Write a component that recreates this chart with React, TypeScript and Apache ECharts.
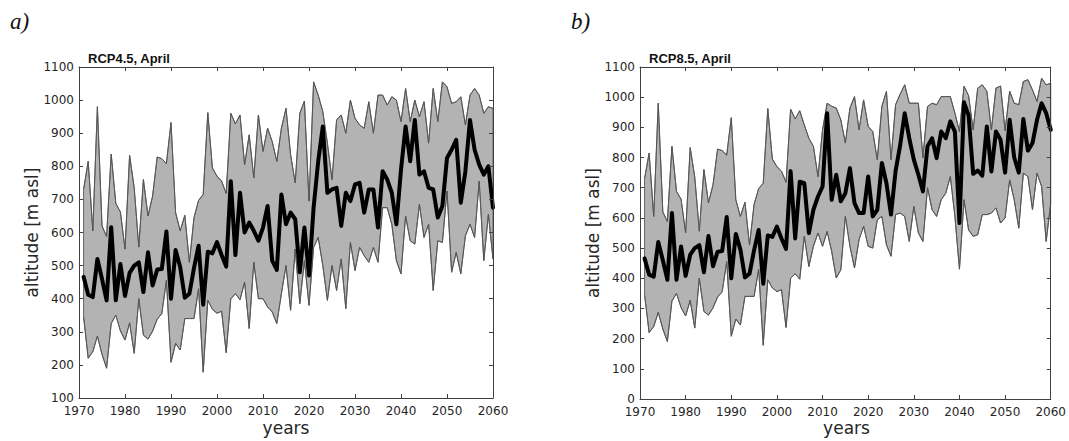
import React, { useEffect, useRef } from "react";
import * as echarts from "echarts";

// Years 1971..2060
const years: number[] = Array.from({ length: 90 }, (_, i) => 1971 + i);

// Historical period (1971-2005), shared by both scenarios
const histUpper = [730, 815, 605, 980, 620, 588, 837, 688, 662, 550, 833, 735, 556, 760, 650, 710, 828, 823, 808, 932, 660, 605, 652, 510, 645, 697, 715, 962, 795, 770, 755, 718, 960, 928, 955];
const histMean = [466, 412, 405, 520, 460, 395, 616, 395, 505, 408, 478, 500, 510, 420, 540, 440, 488, 490, 603, 400, 547, 495, 403, 415, 493, 560, 382, 542, 537, 571, 532, 497, 755, 532, 720];
const histLower = [345, 220, 240, 287, 232, 190, 325, 350, 303, 275, 327, 235, 400, 290, 278, 302, 338, 355, 455, 208, 265, 245, 340, 340, 340, 430, 178, 395, 368, 356, 362, 237, 400, 415, 397];

// RCP4.5 (2006-2060)
const rcp45Upper = [805, 895, 765, 955, 845, 915, 875, 815, 915, 975, 835, 750, 960, 997, 695, 1055, 1015, 965, 870, 760, 940, 955, 900, 1000, 945, 925, 915, 995, 900, 1015, 1015, 985, 1010, 1000, 935, 1035, 935, 1000, 950, 995, 870, 1035, 935, 1055, 1040, 990, 995, 1010, 925, 1015, 1035, 1015, 960, 980, 975];
const rcp45Mean = [600, 630, 605, 575, 615, 680, 515, 487, 715, 625, 660, 640, 480, 615, 470, 675, 815, 920, 720, 730, 735, 620, 720, 695, 745, 750, 660, 730, 730, 615, 785, 760, 720, 625, 790, 920, 815, 940, 775, 785, 735, 730, 645, 680, 825, 850, 880, 690, 785, 940, 850, 805, 775, 800, 675];
const rcp45Lower = [450, 310, 510, 400, 400, 375, 360, 325, 415, 500, 365, 550, 385, 515, 380, 555, 585, 500, 395, 500, 425, 520, 370, 570, 485, 555, 530, 510, 555, 510, 675, 675, 625, 515, 475, 650, 575, 565, 685, 585, 625, 425, 575, 570, 725, 480, 540, 475, 590, 625, 585, 755, 515, 655, 520];

// RCP8.5 (2006-2060)
const rcp85Upper = [908, 864, 837, 737, 892, 980, 970, 964, 925, 848, 964, 1002, 892, 991, 903, 886, 793, 970, 1019, 793, 975, 1010, 1041, 980, 980, 980, 800, 969, 980, 975, 1002, 1002, 1002, 947, 886, 1036, 1005, 892, 1030, 1041, 1020, 892, 1030, 1037, 889, 1020, 980, 975, 1052, 1058, 1024, 986, 1063, 1041, 1046];
const rcp85Mean = [715, 550, 627, 671, 704, 947, 660, 743, 655, 682, 765, 649, 616, 616, 737, 605, 627, 782, 715, 611, 755, 840, 947, 864, 793, 743, 688, 837, 864, 798, 886, 864, 920, 886, 583, 983, 940, 746, 757, 740, 903, 754, 886, 859, 750, 925, 800, 750, 928, 823, 848, 925, 980, 947, 892];
const rcp85Lower = [539, 439, 506, 550, 506, 555, 489, 401, 428, 605, 506, 434, 528, 572, 506, 500, 594, 605, 511, 473, 611, 616, 605, 522, 638, 550, 522, 700, 627, 605, 660, 682, 737, 605, 430, 660, 560, 539, 544, 611, 611, 616, 633, 583, 600, 726, 660, 566, 748, 737, 627, 748, 704, 522, 649];

const panelTitles = ["RCP4.5, April", "RCP8.5, April"];
const panelLetters = ["a)", "b)"];
const xLabel = "years";
const yLabel = "altitude [m asl]";

const AXIS = "#404040";
const TXT = "#262626";
const FONT = "DejaVu Sans";

export default function App() {
  const ref = useRef<HTMLDivElement>(null);

  useEffect(() => {
    if (!ref.current) return;
    const chart = echarts.init(ref.current, undefined, { renderer: "svg" });

    const panels = [
      { upper: [...histUpper, ...rcp45Upper], mean: [...histMean, ...rcp45Mean], lower: [...histLower, ...rcp45Lower], yMin: 100 },
      { upper: [...histUpper, ...rcp85Upper], mean: [...histMean, ...rcp85Mean], lower: [...histLower, ...rcp85Lower], yMin: 0 },
    ];

    const grids = [
      { left: 79, top: 67, width: 414, height: 331 },
      { left: 640, top: 67, width: 413, height: 332 },
    ];

    const xAxes: any[] = [];
    const yAxes: any[] = [];
    const series: any[] = [];

    panels.forEach((p, gi) => {
      const baseX = {
        type: "value",
        gridIndex: gi,
        min: 1970,
        max: 2060,
        interval: 10,
        axisLine: { show: true, onZero: false, lineStyle: { color: AXIS, width: 1 } },
        axisTick: { show: true, inside: true, length: 4, lineStyle: { color: AXIS } },
        splitLine: { show: false },
        z: 5,
      };
      xAxes.push({
        ...baseX,
        position: "bottom",
        axisLabel: { color: TXT, fontSize: 12, fontFamily: FONT, margin: 7, formatter: (v: number) => String(v) },
      });
      xAxes.push({ ...baseX, position: "top", axisLabel: { show: false } });

      const baseY = {
        type: "value",
        gridIndex: gi,
        min: p.yMin,
        max: 1100,
        interval: 100,
        axisLine: { show: true, onZero: false, lineStyle: { color: AXIS, width: 1 } },
        axisTick: { show: true, inside: true, length: 4, lineStyle: { color: AXIS } },
        splitLine: { show: false },
        z: 5,
      };
      yAxes.push({
        ...baseY,
        position: "left",
        axisLabel: { color: TXT, fontSize: 12, fontFamily: FONT, margin: 5, formatter: (v: number) => String(v) },
      });
      yAxes.push({ ...baseY, position: "right", axisLabel: { show: false } });

      const xi = gi * 2;
      const yi = gi * 2;

      // Filled band between lower and upper bound
      series.push({
        type: "custom",
        xAxisIndex: xi,
        yAxisIndex: yi,
        silent: true,
        z: 1,
        encode: { x: 0, y: [1, 2] },
        data: years.map((y, i) => [y, p.lower[i], p.upper[i]]),
        renderItem: (params: any, api: any) => {
          if (params.dataIndex !== 0) return null;
          const n = params.dataInsideLength;
          const top: number[][] = [];
          const bottom: number[][] = [];
          for (let i = 0; i < n; i++) {
            const x = api.value(0, i);
            top.push(api.coord([x, api.value(2, i)]));
            bottom.push(api.coord([x, api.value(1, i)]));
          }
          const points = top.concat(bottom.reverse());
          return {
            type: "polygon",
            shape: { points },
            style: { fill: "#b3b3b3", stroke: "#555555", lineWidth: 0.9 },
          };
        },
      });
      series.push({
        type: "line",
        xAxisIndex: xi,
        yAxisIndex: yi,
        symbol: "none",
        silent: true,
        z: 3,
        lineStyle: { color: "#555555", width: 0.9 },
        data: years.map((y, i) => [y, p.lower[i]]),
      });
      series.push({
        type: "line",
        xAxisIndex: xi,
        yAxisIndex: yi,
        symbol: "none",
        silent: true,
        z: 3,
        lineStyle: { color: "#555555", width: 0.9 },
        data: years.map((y, i) => [y, p.upper[i]]),
      });
      series.push({
        type: "line",
        xAxisIndex: xi,
        yAxisIndex: yi,
        symbol: "none",
        silent: true,
        z: 4,
        lineStyle: { color: "#000000", width: 4, join: "round", cap: "round" },
        data: years.map((y, i) => [y, p.mean[i]]),
      });
    });

    const graphic: any[] = [];
    grids.forEach((g, gi) => {
      graphic.push({
        type: "text",
        x: g.left - 69,
        y: 10,
        style: { text: panelLetters[gi], font: 'italic 23px "Liberation Serif"', fill: "#111" },
      });
      graphic.push({
        type: "text",
        x: g.left + 9,
        y: 52,
        style: { text: panelTitles[gi], font: 'bold 13px "Liberation Sans"', fill: "#111" },
      });
      graphic.push({
        type: "text",
        x: g.left + g.width / 2,
        y: 428,
        style: { text: xLabel, font: '17px "DejaVu Sans"', fill: TXT, textAlign: "center", textVerticalAlign: "middle" },
      });
      graphic.push({
        type: "text",
        x: g.left - 47,
        y: g.top + g.height / 2,
        rotation: Math.PI / 2,
        style: { text: yLabel, font: '17px "DejaVu Sans"', fill: TXT, textAlign: "center", textVerticalAlign: "middle" },
      });
    });

    chart.setOption({
      animation: false,
      backgroundColor: "#ffffff",
      grid: grids,
      xAxis: xAxes,
      yAxis: yAxes,
      series,
      graphic,
    });

    return () => chart.dispose();
  }, []);

  return <div ref={ref} style={{ position: "absolute", left: 0, top: 0, width: 1069, height: 441 }} />;
}
